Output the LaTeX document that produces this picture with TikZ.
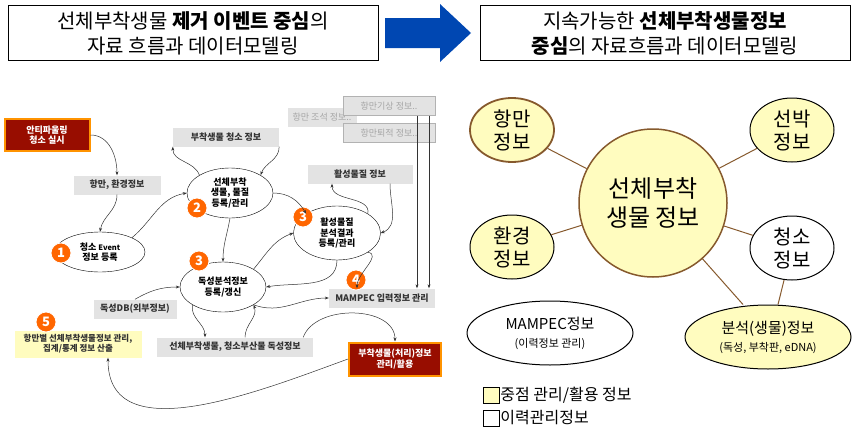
\documentclass[tikz,border=0pt]{standalone}
\usepackage{fontspec}
\setmainfont{Noto Sans CJK KR}
\usetikzlibrary{arrows.meta,shapes.geometric}
\begin{document}
\begin{tikzpicture}[x=1pt,y=-1pt,
 info/.style={fill=gray!22,minimum height=19pt,inner sep=1pt,font=\bfseries\fontsize{9}{10}\selectfont,text=black!80},
 ell/.style={ellipse,draw,fill=white,font=\bfseries\fontsize{9}{10.5}\selectfont,align=center,inner sep=0pt},
 badge/.style={circle,fill=orange!80!red,draw=white,line width=0.8pt,text=white,font=\bfseries\fontsize{13}{14}\selectfont,minimum size=20pt,inner sep=0pt},
 red box/.style={fill=red!55!black!90!orange,draw=orange!85!yellow,line width=2pt,text=white,font=\bfseries\fontsize{9}{10.5}\selectfont,align=center},
 arr/.style={-{Stealth[length=4pt,width=3pt]},black!80,line width=0.5pt},
 rc/.style={ellipse,draw=brown!70!black,line width=1pt,fill=yellow!25!white,align=center,inner sep=0pt},
 lk/.style={draw=brown!70!black,line width=1pt},
 topbox/.style={draw,line width=1pt,fill=white,align=center,font=\fontsize{20}{25}\selectfont}]
\useasboundingbox (0,0) rectangle (854,431);
% top
\node[topbox,minimum width=370pt,minimum height=55pt] (tl) at (193,33) {선체부착생물 \textbf{제거 이벤트 중심}의\\자료 흐름과 데이터모델링};
\node[topbox,minimum width=370pt,minimum height=55pt] (tr) at (665,33) {지속가능한 \textbf{선체부착생물정보}\\\textbf{중심}의 자료흐름과 데이터모델링};
\fill[blue!60!cyan!70!black] (385,18) -- (440,18) -- (440,4) -- (471,33) -- (440,62) -- (440,48) -- (385,48) -- cycle;
% left diagram
\node[info,minimum width=69pt,text=gray!70,font=\fontsize{9}{10}\selectfont] (tide) at (322,117) {항만 조석 정보..};
\node[info,minimum width=92pt,text=gray!70,draw=gray!60,font=\fontsize{9}{10}\selectfont] (wx) at (389,106) {항만기상 정보..};
\node[info,minimum width=92pt,text=gray!70,draw=gray!60,font=\fontsize{9}{10}\selectfont] (sed) at (389,133) {항만퇴적 정보..};
\node[red box,minimum width=85pt,minimum height=32pt] (anti) at (47,135) {안티파울링\\청소 실시};
\node[info,minimum width=87pt] (env) at (117,185) {항만, 환경정보};
\node[info,minimum width=106pt] (clean) at (226,137) {부착생물 청소 정보};
\node[info,minimum width=105pt] (act) at (360,174) {활성물질 정보};
\node[info,minimum width=106pt] (mam) at (382,298) {MAMPEC 입력정보 관리};
\node[info,minimum width=83pt] (tdb) at (135,309) {독성DB(외부정보)};
\node[info,minimum width=156pt] (tox) at (235,347) {선체부착생물, 청소부산물 독성정보};
\node[info,fill=yellow!25,minimum width=127pt,minimum height=27pt,align=center,font=\bfseries\fontsize{8.5}{10}\selectfont] (stat) at (78,344) {항만별 선체부착생물정보 관리,\\집계/통계 정보 산출};
\node[red box,minimum width=92pt,minimum height=33pt] (proc) at (395,359) {부착생물(처리)정보\\관리/활용};
\node[ell,minimum width=90pt,minimum height=40pt] (e1) at (100,252) {청소 {\fontsize{7.5}{8}\selectfont Event}\\정보 등록};
\node[ell,minimum width=86pt,minimum height=50pt] (e2) at (230,193) {선체부착\\생물, 물질\\등록/관리};
\node[ell,minimum width=86pt,minimum height=50pt] (e3) at (223,287) {독성분석정보\\등록/갱신};
\node[ell,minimum width=87pt,minimum height=54pt] (e4) at (337,233) {활성물질\\분석결과\\등록/관리};
\node[badge] (b1) at (61,253) {1};
\node[badge] (b2) at (197,208) {2};
\node[badge] (b3) at (199,261) {3};
\node[badge] (b3b) at (303,217) {3};
\node[badge] (b4) at (356,280) {4};
\node[badge] (b5) at (46,322) {5};
% arrows
\draw[arr] (anti.east) to[out=0,in=90] (env.north);
\draw[arr] (env.south) to[out=270,in=80] (e1.north);
\draw[arr] (e1.north east) to[out=40,in=190] (e2.west);
\draw[arr] (e2.north west) to[out=110,in=270] (clean.south west);
\draw[arr] (clean.south east) to[out=270,in=70] (e2.north east);
\draw[arr] (e2.south) to[out=260,in=90] (e3.north);
\draw[arr] (e2.east) to[out=0,in=120] (e4.north west);
\draw[arr] (e3.north east) to[out=50,in=200] (e4.west);
\draw[arr] (e4.south) to[out=270,in=10] (e3.east);
\draw[arr] (e4.north east) to[out=80,in=270] ([xshift=-28pt]act.south);
\draw[arr] ([xshift=30pt]act.south) to[out=270,in=20] (e4.east);
\draw[arr] (e4.south east) to[out=-10,in=90] ([xshift=-25pt]mam.north);
\draw[arr] (e3.south east) to[out=-20,in=180] (mam.west);
\draw[arr] (tdb.north) to[out=30,in=180] (e3.west);
\draw[arr] (e3.south west) to[out=260,in=90] ([xshift=-30pt]tox.north);
\draw[arr] ([xshift=10pt]tox.north) to[out=90,in=290] (e3.south east);
\draw[arr] ([xshift=-10pt]tox.north east) to[out=70,in=90] (proc.north);
\draw[arr] (proc.west) to[out=200,in=270] ([xshift=30pt]stat.south);
\draw[arr] ([xshift=28pt]wx.south) -- ([xshift=28pt]wx.south |- mam.north);
\draw[arr] ([xshift=40pt]wx.south) -- ([xshift=40pt]wx.south |- mam.north);
% right diagram
\node[circle,draw=brown!70!black,line width=1.5pt,fill=yellow!25!white,minimum size=148pt,align=center,font=\fontsize{24}{29}\selectfont] (bio) at (653,203) {선체부착\\생물 정보};
\node[rc,line width=1.8pt,minimum width=84pt,minimum height=64pt,font=\fontsize{20}{23}\selectfont] (port) at (512,130) {항만\\정보};
\node[rc,draw=black,minimum width=84pt,minimum height=64pt,font=\fontsize{20}{23}\selectfont] (ship) at (792,130) {선박\\정보};
\node[rc,draw=black,minimum width=84pt,minimum height=64pt,font=\fontsize{20}{23}\selectfont] (envr) at (512,247) {환경\\정보};
\node[rc,draw=black,fill=white,minimum width=84pt,minimum height=64pt,font=\fontsize{20}{23}\selectfont] (cln) at (792,248) {청소\\정보};
\node[rc,draw=black,fill=white,minimum width=166pt,minimum height=64pt,font=\fontsize{15}{18}\selectfont] (mp) at (550,333) {MAMPEC정보\\{\fontsize{11}{13}\selectfont(이력정보 관리)}};
\node[rc,draw=black,minimum width=166pt,minimum height=64pt,font=\fontsize{15}{18}\selectfont] (an) at (768,337) {분석(생물)정보\\{\fontsize{11}{13}\selectfont(독성, 부착판, eDNA)}};
\draw[lk] (port) -- (bio); \draw[lk] (ship) -- (bio); \draw[lk] (envr) -- (bio); \draw[lk] (cln) -- (bio);
\draw[lk] (bio) -- ([xshift=-25pt]an.north); \draw[lk] (cln) -- ([xshift=10pt]an.north);
\node[draw=black,fill=yellow!25!white,minimum size=16pt,inner sep=0pt] (lg1) at (491,395) {};
\node[draw=black,fill=white,minimum size=16pt,inner sep=0pt] (lg2) at (491,418) {};
\node[anchor=west,font=\fontsize{16}{18}\selectfont,inner sep=1pt] (lt1) at (lg1.east) {중점 관리/활용 정보};
\node[anchor=west,font=\fontsize{16}{18}\selectfont,inner sep=1pt] (lt2) at (lg2.east) {이력관리정보};
\end{tikzpicture}
\end{document}
